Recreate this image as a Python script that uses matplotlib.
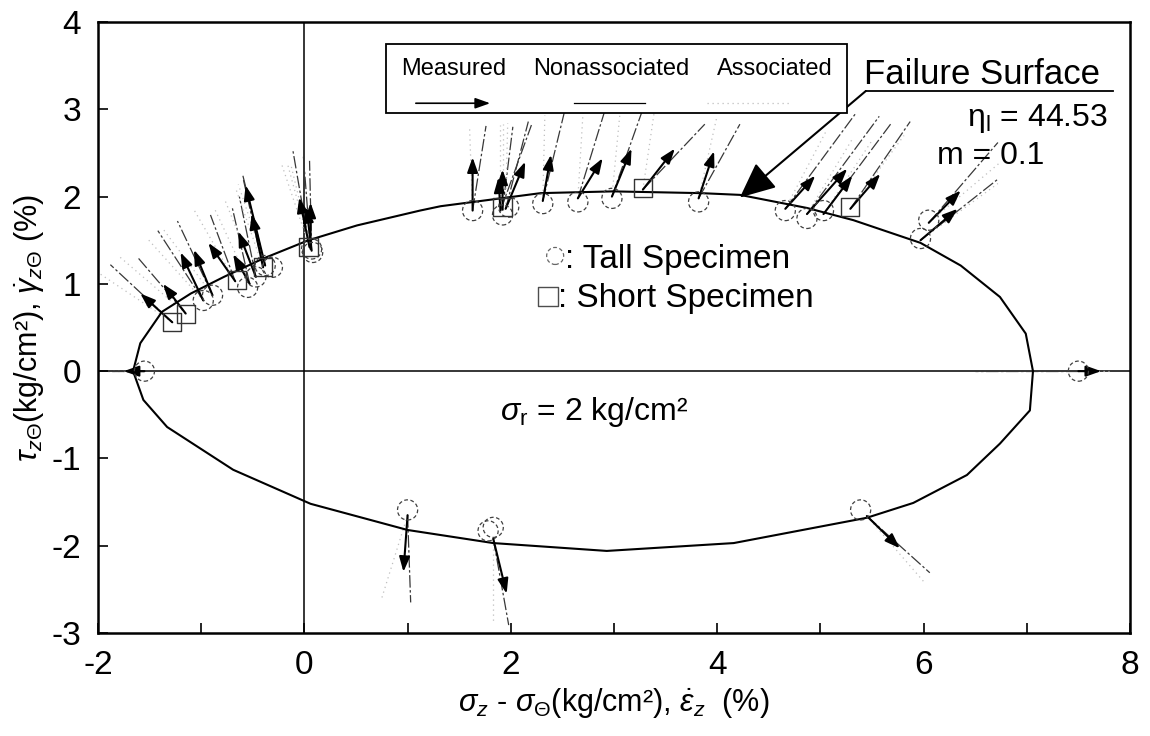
import numpy as np
import matplotlib.pyplot as plt

plt.rcParams['font.family'] = ['Liberation Sans', 'DejaVu Sans']
plt.rcParams['mathtext.fontset'] = 'custom'
plt.rcParams['mathtext.rm'] = 'Liberation Sans'
plt.rcParams['mathtext.it'] = 'Liberation Sans:italic'
plt.rcParams['mathtext.bf'] = 'Liberation Sans:bold'

# failure surface (eta_1 = 44.53, m = 0.1)
surf_up_x = [-1.66, -1.59, -1.38, -1.10, -0.78, -0.40, 0.04, 0.51, 1.12, 1.32, 2.29, 2.99,
             3.84, 4.22, 4.87, 5.32, 5.97, 6.36, 6.74, 6.99, 7.06]
surf_up_y = [0.0, 0.32, 0.68, 0.89, 1.08, 1.29, 1.50, 1.67, 1.84, 1.89, 2.04, 2.06,
             2.04, 2.02, 1.87, 1.73, 1.47, 1.21, 0.85, 0.43, 0.0]
surf_lo_x = [-1.66, -1.56, -1.33, -0.69, 0.06, 1.00, 1.83, 2.93, 4.16, 5.45, 5.90, 6.42,
             6.74, 7.03, 7.06]
surf_lo_y = [0.0, -0.33, -0.64, -1.13, -1.52, -1.82, -1.97, -2.06, -1.97, -1.68, -1.51, -1.19,
             -0.83, -0.45, 0.0]

# stress states at failure
tall_x = [-1.55, 7.50, -0.98, -0.89, -0.55, -0.47, -0.38, -0.31, 0.07, 0.08, 1.63, 1.92,
          1.98, 2.31, 2.65, 2.98, 3.82, 4.66, 4.87, 5.03, 5.97, 6.05, 1.00, 1.83, 1.78, 5.39]
tall_y = [0.0, 0.0, 0.81, 0.87, 0.96, 1.08, 1.21, 1.19, 1.40, 1.36, 1.84, 1.79,
          1.88, 1.92, 1.94, 1.98, 1.94, 1.84, 1.75, 1.84, 1.52, 1.73, -1.59, -1.79, -1.83, -1.59]
short_x = [-1.28, -1.15, -0.65, -0.40, 0.04, 1.92, 3.28, 5.29]
short_y = [0.56, 0.66, 1.04, 1.19, 1.42, 1.88, 2.10, 1.88]

# strain increment directions: start point, measured, nonassociated, associated
vec_x = [-1.28, -1.15, -0.98, -0.89, -0.67, -0.53, -0.47, -0.40, -0.38, 0.05, 0.06, 0.07,
         1.63, 1.92, 1.95, 1.90, 2.31, 2.65, 2.98, 3.28, 3.82, 4.66, 4.87, 5.03, 5.29,
         6.05, 5.97, -1.55, 7.50, 1.00, 1.83, 5.45]
vec_y = [0.56, 0.66, 0.81, 0.87, 1.03, 1.00, 1.08, 1.19, 1.21, 1.42, 1.40, 1.38,
         1.84, 1.85, 1.86, 1.84, 1.95, 1.98, 2.00, 2.08, 1.98, 1.86, 1.80, 1.80, 1.86,
         1.70, 1.50, 0.0, 0.0, -1.65, -1.92, -1.66]
meas_dx = [-0.31, -0.22, -0.22, -0.18, -0.26, -0.16, -0.17, -0.11, -0.19, -0.10, 0.00, -0.05,
           0.00, 0.00, 0.19, -0.02, 0.08, 0.24, 0.19, 0.31, 0.15, 0.29, 0.39, 0.28, 0.29,
           0.31, 0.36, -0.20, 0.22, -0.04, 0.13, 0.32]
meas_dy = [0.33, 0.34, 0.55, 0.52, 0.44, 0.34, 0.52, 0.61, 0.92, 0.57, 0.53, 0.50,
           0.61, 0.46, 0.54, 0.38, 0.53, 0.46, 0.55, 0.47, 0.54, 0.38, 0.52, 0.44, 0.40,
           0.37, 0.36, 0.0, 0.0, -0.65, -0.63, -0.37]
nona_dx = [-0.60, -0.47, -0.44, -0.34, -0.24, -0.17, -0.16, -0.19, -0.22, -0.16, -0.07, -0.02,
           0.13, 0.10, 0.22, 0.30, 0.22, 0.26, 0.32, 0.60, 0.40, 0.68, 0.70, 0.65, 0.58,
           0.67, 0.75, -0.35, -1.0, 0.03, 0.15, 0.61]
nona_dy = [0.66, 0.65, 0.80, 0.85, 0.76, 0.88, 0.92, 1.00, 1.05, 1.10, 1.07, 1.03,
           0.97, 0.95, 1.00, 0.98, 1.07, 1.00, 1.07, 0.75, 0.85, 1.09, 1.12, 1.03, 1.00,
           0.92, 0.70, 0.0, 0.0, -1.00, -0.99, -0.65]
asso_dx = [-0.77, -0.65, -0.55, -0.48, -0.40, -0.34, -0.30, -0.27, -0.26, -0.27, -0.22, -0.20,
           -0.03, 0.00, 0.02, 0.00, 0.02, 0.05, 0.08, 0.12, 0.18, 0.40, 0.45, 0.48, 0.52,
           0.70, 0.75, -0.30, 0.30, -0.25, 0.00, 0.55]
asso_dy = [0.61, 0.66, 0.72, 0.76, 0.82, 0.86, 0.88, 0.92, 0.93, 0.95, 0.96, 0.98,
           0.97, 0.98, 0.98, 0.98, 0.98, 0.98, 0.98, 0.97, 0.95, 0.90, 0.88, 0.86, 0.84,
           0.70, 0.65, 0.0, 0.0, -0.95, -0.98, -0.75]

fig = plt.figure(figsize=(11.5, 7.36), dpi=100)
ax = fig.add_axes([0.0852, 0.140, 0.8974, 0.830])

ax.axhline(0, color='k', lw=1.1, zorder=1)
ax.axvline(0, color='k', lw=1.1, zorder=1)

ax.plot(surf_up_x, surf_up_y, color='k', lw=1.5, zorder=3)
ax.plot(surf_lo_x, surf_lo_y, color='k', lw=1.5, zorder=3)

for i in range(len(vec_x)):
    x0, y0 = vec_x[i], vec_y[i]
    ax.plot([x0, x0 + asso_dx[i]], [y0, y0 + asso_dy[i]], color='0.75', lw=0.9,
            ls=(0, (1, 3)), zorder=2)
    ax.plot([x0, x0 + nona_dx[i]], [y0, y0 + nona_dy[i]], color='0.22', lw=0.9,
            ls=(0, (10, 2, 2, 2)), zorder=2)
    ax.annotate('', xy=(x0 + meas_dx[i], y0 + meas_dy[i]), xytext=(x0, y0),
                arrowprops=dict(arrowstyle='-|>,head_length=0.45,head_width=0.16',
                                color='k', lw=1.5, shrinkA=0, shrinkB=0,
                                mutation_scale=20), zorder=4)

ax.scatter(tall_x, tall_y, s=210, facecolors='none', edgecolors='0.25', linewidths=0.9,
           linestyles=(0, (3, 2)), zorder=5)
ax.scatter(short_x, short_y, s=170, marker='s', facecolors='none', edgecolors='0.2',
           linewidths=1.0, zorder=5)

# legend box for the vectors
ax.add_patch(plt.Rectangle((0.79, 2.96), 4.47, 0.79, facecolor='white', edgecolor='k',
                           lw=1.3, zorder=6))
ax.text(1.45, 3.39, 'Measured', fontsize=17, ha='center', zorder=7)
ax.text(2.97, 3.39, 'Nonassociated', fontsize=17, ha='center', zorder=7)
ax.text(4.56, 3.39, 'Associated', fontsize=17, ha='center', zorder=7)
ax.annotate('', xy=(1.80, 3.07), xytext=(1.08, 3.07),
            arrowprops=dict(arrowstyle='-|>,head_length=0.45,head_width=0.16', color='k',
                            lw=1.2, shrinkA=0, shrinkB=0, mutation_scale=20), zorder=7)
ax.plot([2.61, 3.30], [3.07, 3.07], color='k', lw=0.9, zorder=7)
ax.plot([3.90, 4.70], [3.07, 3.07], color='0.75', lw=0.9, ls=(0, (1, 3)), zorder=7)

# failure surface label
ax.text(5.42, 3.29, 'Failure Surface', fontsize=25, ha='left', va='baseline')
ax.plot([5.44, 7.84], [3.21, 3.21], color='k', lw=1.3)
ax.annotate('', xy=(4.22, 1.99), xytext=(5.44, 3.21),
            arrowprops=dict(arrowstyle='-|>,head_length=1.1,head_width=0.5', color='k',
                            lw=1.5, shrinkA=0, shrinkB=0, mutation_scale=20))
ax.text(7.79, 2.81, r'$\mathregular{\eta_l}$ = 44.53', fontsize=23, ha='right', va='baseline')
ax.text(6.13, 2.37, 'm = 0.1', fontsize=23, ha='left', va='baseline')

ax.scatter([2.43], [1.32], s=150, facecolors='none', edgecolors='0.4', linewidths=0.9,
           linestyles=(0, (3, 2)), zorder=5)
ax.text(2.53, 1.18, ': Tall Specimen', fontsize=24, ha='left', va='baseline')
ax.scatter([2.36], [0.86], s=190, marker='s', facecolors='none', edgecolors='0.3',
           linewidths=1.0, zorder=5)
ax.text(2.46, 0.73, ': Short Specimen', fontsize=24, ha='left', va='baseline')
ax.text(1.90, -0.56, r'$\sigma_\mathregular{r}$ = 2 kg/cm²', fontsize=23, ha='left',
        va='baseline')

ax.set_xlim(-2, 8)
ax.set_ylim(-3, 4)
ax.set_xticks(np.arange(-2, 9, 1))
ax.set_xticklabels(['-2', '', '0', '', '2', '', '4', '', '6', '', '8'])
ax.set_yticks(np.arange(-3, 5, 1))
ax.set_yticklabels(['-3', '-2', '-1', '0', '1', '2', '3', '4'])
ax.tick_params(direction='in', length=7, width=1.2, labelsize=24, pad=12)
for sp in ax.spines.values():
    sp.set_linewidth(1.8)

ax.set_xlabel(r'$\sigma_z$ - $\sigma_\Theta$(kg/cm²), $\dot{\epsilon}_z$  (%)', fontsize=22,
              labelpad=4)
ax.set_ylabel(r'$\tau_{z\Theta}$(kg/cm²), $\dot{\gamma}_{z\Theta}$ (%)', fontsize=22,
              labelpad=4)

fig.savefig('out.png', dpi=100)
